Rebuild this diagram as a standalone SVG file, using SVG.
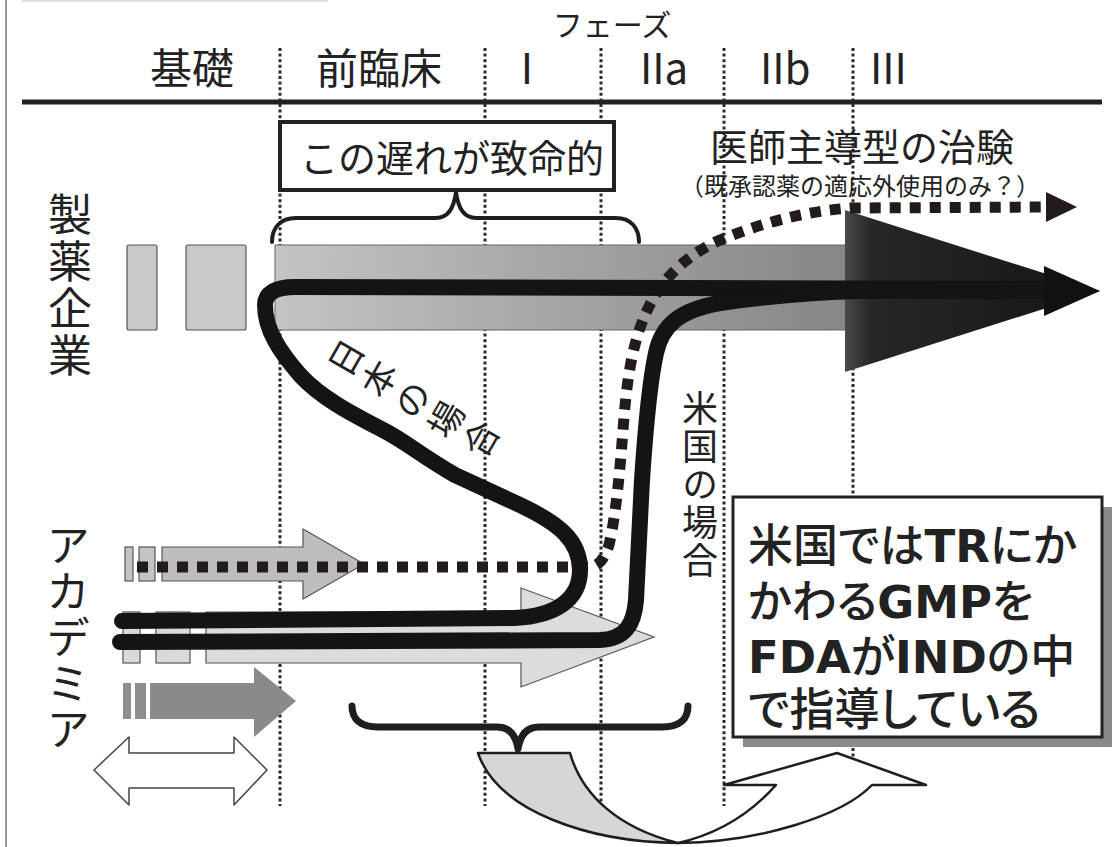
<svg xmlns="http://www.w3.org/2000/svg" width="1117" height="847" viewBox="0 0 1117 847">
<defs>
<linearGradient id="barG" gradientUnits="userSpaceOnUse" x1="275" y1="0" x2="845" y2="0"><stop offset="0" stop-color="#c4c4c4"/><stop offset="1" stop-color="#868686"/></linearGradient>
<linearGradient id="headG" gradientUnits="userSpaceOnUse" x1="845" y1="0" x2="1100" y2="0"><stop offset="0" stop-color="#4a4a4a"/><stop offset="0.1" stop-color="#272727"/><stop offset="1" stop-color="#151515"/></linearGradient>
<style>
.jp{font-family:"Noto Sans CJK JP","Noto Sans",sans-serif;fill:#222}
.hd{font-size:42px}
.vt{writing-mode:vertical-rl}
.vl{stroke:#2a2a2a;stroke-width:3;stroke-dasharray:3 2.6;fill:none}
.blk{fill:none;stroke:#141414;stroke-width:16;stroke-linecap:round;stroke-linejoin:round}
.dots{fill:none;stroke:#231a1a;stroke-width:11;stroke-dasharray:11 9}
.brace{fill:none;stroke:#1e1e1e;stroke-linecap:round;stroke-linejoin:round}
.lt{stroke:#555;stroke-width:1.2}
.bx{font-size:45px;font-weight:500;font-feature-settings:"palt"}
.bl{font-family:"DejaVu Sans",sans-serif;font-weight:bold}
</style>
</defs>
<rect width="1117" height="847" fill="#fff"/>
<line x1="6" y1="0" x2="6" y2="847" stroke="#999" stroke-width="2"/>
<line x1="22" y1="1" x2="328" y2="1" stroke="#d4d4d4" stroke-width="1.5"/>

<g id="header">
<text class="jp" x="612" y="36" font-size="30" text-anchor="middle">フェーズ</text>
<text class="jp hd" x="150" y="84">基礎</text>
<text class="jp hd" x="316" y="84">前臨床</text>
<text class="jp hd" x="527" y="84" text-anchor="middle">I</text>
<text class="jp hd" x="640" y="84">IIa</text>
<text class="jp hd" x="760" y="84">IIb</text>
<text class="jp hd" x="870" y="84">III</text>
<line x1="22" y1="102" x2="1102" y2="102" stroke="#222" stroke-width="5"/>
</g>

<g id="phase-lines">
<line class="vl" x1="280" y1="48" x2="280" y2="806"/>
<line class="vl" x1="485" y1="48" x2="485" y2="806"/>
<line class="vl" x1="601" y1="48" x2="601" y2="806"/>
<line class="vl" x1="724" y1="48" x2="724" y2="806"/>
<line class="vl" x1="853" y1="48" x2="853" y2="762"/>
</g>

<g id="row-labels">
<text class="jp vt" x="70" y="192" font-size="44" letter-spacing="3">製薬企業</text>
<text class="jp vt" x="68" y="523" font-size="44" letter-spacing="2">アカデミア</text>
</g>

<g id="pharma-arrow">
<rect x="127" y="245" width="30" height="85" rx="2" fill="#c8c8c8" class="lt"/>
<rect x="186" y="245" width="60" height="85" rx="2" fill="#c8c8c8" class="lt"/>
<rect x="275" y="245" width="571" height="85" fill="url(#barG)" stroke="#666" stroke-width="1"/>
<polygon points="845,210 1100,291 845,372" fill="url(#headG)"/>
</g>

<g id="delay-box">
<rect x="280" y="122" width="334" height="68" fill="#fff" stroke="#222" stroke-width="4"/>
<text class="jp" x="300" y="172" font-size="38">この遅れが致命的</text>
<path class="brace" stroke-width="4" d="M272,242 C272,228 280,218 296,218 L436,218 C448,218 454,208 456,192 C458,208 464,218 476,218 L616,218 C631,218 639,228 639,242"/>
</g>

<g id="investigator-trial">
<text class="jp" x="710" y="161" font-size="38">医師主導型の治験</text>
<text class="jp" x="680" y="195" font-size="24">（既承認薬の適応外使用のみ？）</text>
</g>

<g id="academia-arrows">
<rect x="125" y="547" width="8" height="34" fill="#c4c4c4" class="lt"/>
<rect x="139" y="547" width="16" height="34" fill="#c4c4c4" class="lt"/>
<polygon points="162,547 303,547 303,529 364,564 303,599 303,581 162,581" fill="#bdbdbd" class="lt"/>

<rect x="123" y="612" width="17" height="51" fill="#dadada" class="lt"/>
<rect x="156" y="612" width="34" height="51" fill="#dadada" class="lt"/>
<polygon points="206,612 521,612 521,588 654,637 521,687 521,663 206,663" fill="#dcdcdc" class="lt"/>

<rect x="123" y="683" width="8" height="36" fill="#8e8e8e"/>
<rect x="135" y="683" width="11" height="36" fill="#8e8e8e"/>
<polygon points="150,683 254,683 254,667 296,701 254,737 254,719 150,719" fill="#8a8a8a"/>

<polygon points="94,770 129,737 129,753 234,753 234,737 267,770 234,805 234,788 129,788 129,805" fill="#fff" stroke="#444" stroke-width="1.5" stroke-linejoin="round"/>
</g>

<g id="bottom-brace">
<path class="brace" stroke-width="7" d="M352,706 C352,719 360,727 378,727 L497,727 C510,727 516,736 518,749 C520,736 526,727 539,727 L662,727 C680,727 688,719 688,706"/>
</g>

<g id="u-turn-arrow">
<path d="M478,753 L570,753 C582,795 618,828 678,843 C590,842 498,812 478,753 Z" fill="#d6d6d6" stroke="#1e1e1e" stroke-width="2.5" stroke-linejoin="round"/>
<path d="M678,843 C760,842 842,816 872,785 L926,785 L837,753 L724,785 L776,785 C752,812 722,833 678,843 Z" fill="#fff" stroke="#1e1e1e" stroke-width="2.5" stroke-linejoin="round"/>
</g>

<g id="connectors">
<path class="dots" d="M137,567 L588,567 C598,567 604,560 609,545 C616,515 620,470 623,430 C626,390 630,350 645,315 C658,285 680,258 720,240 C760,224 800,212 850,208 L1045,207"/>
<polygon points="1046,192 1077,207 1046,222" fill="#231a1a"/>
<path class="blk" d="M122,621 L515,618 C555,616 580,600 580,570 C580,540 558,523 520,505 L455,475 C420,455 405,441 383,430 C350,413 320,397 300,375 C280,352 265,330 265,305 C265,293 275,287 295,287 L1060,289"/>
<path class="blk" d="M120,642 L600,640 C625,639 634,625 636,600 L642,480 C646,420 650,380 656,353 C662,325 680,310 720,303 C770,296 820,292 860,291 L1060,291"/>
<polygon points="1044,266 1100,291 1044,316" fill="#111"/>
</g>

<g id="case-labels">
<g class="jp" font-size="35" text-anchor="middle">
<text transform="translate(347,358) rotate(-60)" dy="12">日</text>
<text transform="translate(380,379) rotate(-60)" dy="12">本</text>
<text transform="translate(413,400) rotate(-60)" dy="12">の</text>
<text transform="translate(447,420) rotate(-60)" dy="12">場</text>
<text transform="translate(482,439) rotate(-60)" dy="12">合</text>
</g>
<text class="jp vt" x="700" y="390" font-size="36" letter-spacing="2">米国の場合</text>
</g>

<g id="us-note">
<rect x="743" y="507" width="369" height="240" fill="#8a8a8a"/>
<rect x="733" y="497" width="369" height="240" fill="#fff" stroke="#222" stroke-width="3"/>
<text class="jp bx" x="748" y="562">米国では<tspan class="bl">TR</tspan>にか</text>
<text class="jp bx" x="748" y="618">かわる<tspan class="bl">GMP</tspan>を</text>
<text class="jp bx" x="748" y="673"><tspan class="bl">FDA</tspan>が<tspan class="bl">IND</tspan>の中</text>
<text class="jp bx" x="748" y="726">で指導している</text>
</g>
</svg>
